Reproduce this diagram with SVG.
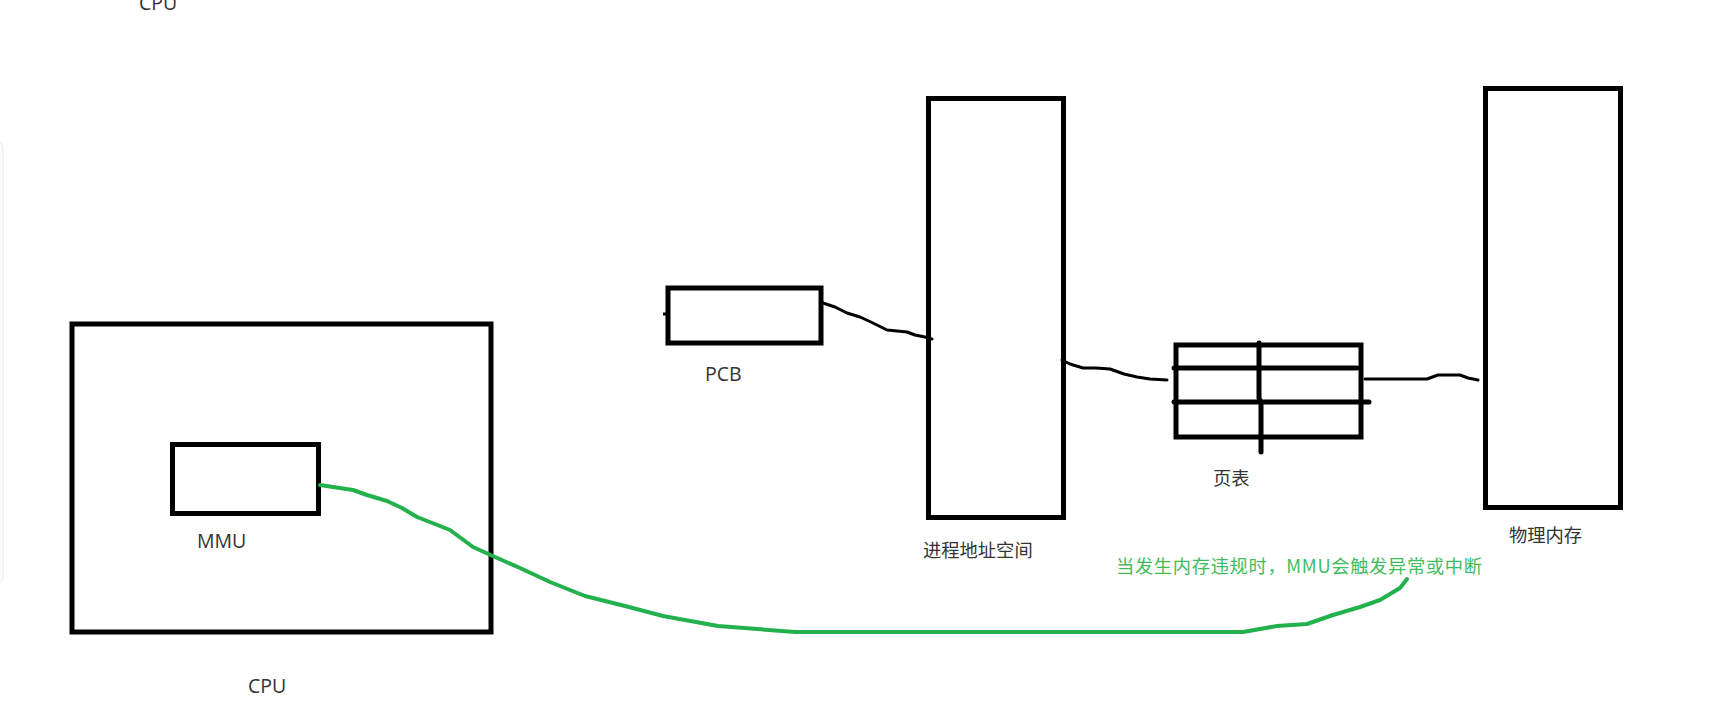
<svg xmlns="http://www.w3.org/2000/svg" width="1732" height="727" viewBox="0 0 1732 727">
<style>
.box{fill:none;stroke:#000;stroke-width:5}
.lab{font-family:"Open Sans","Noto Sans CJK SC",sans-serif;font-size:19.5px;fill:#333}
.zh{font-family:"Noto Sans CJK SC",sans-serif;font-size:18.3px;fill:#333}
.wire{fill:none;stroke:#000;stroke-width:3;stroke-linecap:round;stroke-linejoin:round}
.gwire{fill:none;stroke:#22b14c;stroke-width:4;stroke-linecap:round;stroke-linejoin:round}
</style>
<rect x="0" y="0" width="1732" height="727" fill="#fff"/>
<rect x="-20" y="140" width="23" height="445" rx="8" fill="#fbfcfd" stroke="#e4e8ee" stroke-width="1"/>
<text class="lab" x="139" y="10">CPU</text>
<g id="cpu">
<rect class="box" x="72" y="324" width="419" height="308"/>
<text class="lab" x="248" y="693">CPU</text>
</g>
<g id="mmu">
<rect class="box" x="172.5" y="444.5" width="146" height="69"/>
<text class="lab" x="197" y="548">MMU</text>
</g>
<g id="pcb">
<rect class="box" x="668" y="288" width="153" height="55"/>
<line x1="663" y1="314" x2="668" y2="314" stroke="#000" stroke-width="3"/>
<text class="lab" x="705" y="381">PCB</text>
</g>
<g id="vas">
<rect class="box" x="928.5" y="98.5" width="135" height="419"/>
<text class="zh" x="923" y="557">进程地址空间</text>
</g>
<g id="pagetable">
<rect class="box" x="1176" y="345" width="185" height="92"/>
<line x1="1174" y1="368" x2="1357" y2="368" stroke="#000" stroke-width="5" stroke-linecap="round"/>
<line x1="1174" y1="402" x2="1369" y2="402" stroke="#000" stroke-width="5" stroke-linecap="round"/>
<polyline points="1259,343 1259,398 1261,402 1261,452" fill="none" stroke="#000" stroke-width="5" stroke-linecap="round"/>
<text class="zh" x="1213" y="485">页表</text>
</g>
<g id="physmem">
<rect class="box" x="1485.5" y="88.5" width="135" height="419"/>
<text class="zh" x="1509" y="542">物理内存</text>
</g>
<g id="connectors">
<polyline class="wire" points="823,303 835,307 847,313 860,317 873,323 887,330 897,331 907,332 915,335 925,337 932,339"/>
<polyline class="wire" points="1062,360 1070,364 1083,368 1096,368 1110,369 1124,374 1137,377 1150,379 1167,380"/>
<polyline class="wire" points="1365,379 1400,379 1427,379 1438,375 1450,375 1460,375 1468,378 1478,380"/>
<polyline class="gwire" points="320,485 333,487 353,490 367,495 387,501 402,508 417,517 435,524 450,530 473,547 495,557 520,568 550,582 585,596 625,606 663,616 718,626 795,632 1000,632 1215,632 1243,632 1277,626 1307,624 1333,615 1360,607 1380,600 1400,588 1407,579"/>
<text x="1116" y="573" textLength="366" font-family="Noto Sans CJK SC, sans-serif" font-size="18.3" fill="#3fbd5c">当发生内存违规时，MMU会触发异常或中断</text>
</g>
</svg>
